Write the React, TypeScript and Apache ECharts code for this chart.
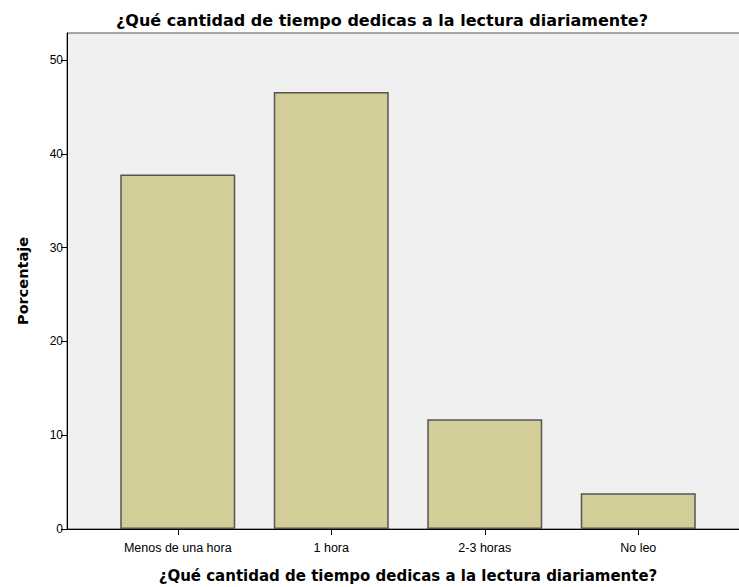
import React, { useEffect, useRef } from "react";
import * as echarts from "echarts";

const categories = ["Menos de una hora", "1 hora", "2-3 horas", "No leo"];
const percentages = [37.8, 46.6, 11.7, 3.8];
const titleText = "¿Qué cantidad de tiempo dedicas a la lectura diariamente?";
const yAxisName = "Porcentaje";

export default function App() {
  const ref = useRef<HTMLDivElement>(null);
  useEffect(() => {
    const chart = echarts.init(ref.current!, undefined, { renderer: "svg" });
    const font = "Liberation Sans, Arial, sans-serif";
    const boldFont = "DejaVu Sans, sans-serif";
    const yMax = 52.9;
    chart.setOption({
      animation: false,
      title: {
        text: titleText,
        left: 377,
        textAlign: "center",
        top: 7,
        textStyle: { fontFamily: boldFont, fontSize: 16, fontWeight: "bold", color: "#000" },
      },
      grid: [
        { left: 67, right: -2, top: 33, bottom: 58, show: true, backgroundColor: "#f0f0f0", borderColor: "#555", borderWidth: 1, outerBoundsMode: "none", containLabel: false },
        { left: 101, right: 24, top: 33, bottom: 58, outerBoundsMode: "none", containLabel: false },
      ],
      xAxis: [
        {
          type: "value", gridIndex: 0, min: 0, max: 1,
          axisLine: { show: true, onZero: false, lineStyle: { color: "#000", width: 1 } },
          axisTick: { show: false }, axisLabel: { show: false }, splitLine: { show: false },
        },
        {
          type: "category", gridIndex: 1, data: categories,
          axisLine: { show: false },
          axisTick: { show: true, alignWithLabel: true, length: 6, lineStyle: { color: "#000" } },
          axisLabel: { fontFamily: font, fontSize: 12.5, color: "#000", margin: 12 },
          name: titleText,
          nameLocation: "middle",
          nameGap: 39,
          nameTextStyle: { fontFamily: boldFont, fontSize: 15, fontWeight: "bold", color: "#000" },
        },
      ],
      yAxis: [
        {
          type: "value", gridIndex: 0, min: 0, max: yMax, interval: 10,
          axisLine: { show: true, lineStyle: { color: "#000", width: 1 } },
          axisTick: { show: true, length: 6, lineStyle: { color: "#000" } },
          axisLabel: { fontFamily: font, fontSize: 12, color: "#000", margin: 4, showMaxLabel: false },
          splitLine: { show: false },
          name: yAxisName,
          nameLocation: "middle",
          nameGap: 37,
          nameTextStyle: { fontFamily: boldFont, fontSize: 14.5, fontWeight: "bold", color: "#000" },
        },
        {
          type: "value", gridIndex: 1, min: 0, max: yMax, show: false,
        },
      ],
      series: [
        {
          type: "bar",
          xAxisIndex: 1,
          yAxisIndex: 1,
          data: percentages,
          barWidth: 115,
          itemStyle: { color: "#d3ce98", borderColor: "#555", borderWidth: 1.5 },
        },
      ],
    });
    return () => chart.dispose();
  }, []);
  return <div ref={ref} style={{ position: "absolute", left: 0, top: 0, width: 739, height: 587 }} />;
}
